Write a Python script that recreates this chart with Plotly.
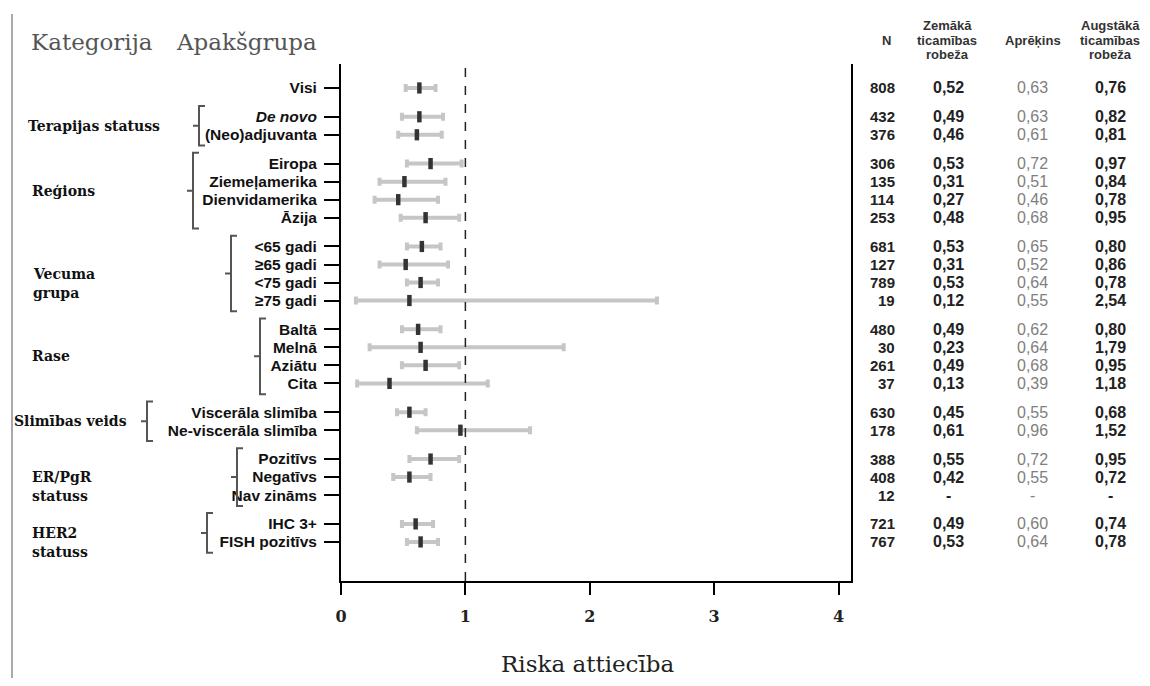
import plotly.graph_objects as go

# ---------------- data ----------------
group_names = ["", "Terapijas statuss", "Reģions", "Vecuma\ngrupa", "Rase",
               "Slimības veids", "ER/PgR\nstatuss", "HER2\nstatuss"]
subgroups = ["Visi", "De novo", "(Neo)adjuvanta",
             "Eiropa", "Ziemeļamerika", "Dienvidamerika", "Āzija",
             "<65 gadi", "≥65 gadi", "<75 gadi", "≥75 gadi",
             "Baltā", "Melnā", "Aziātu", "Cita",
             "Viscerāla slimība", "Ne-viscerāla slimība",
             "Pozitīvs", "Negatīvs", "Nav zināms",
             "IHC 3+", "FISH pozitīvs"]
group_of = [0, 1, 1, 2, 2, 2, 2, 3, 3, 3, 3, 4, 4, 4, 4, 5, 5, 6, 6, 6, 7, 7]
n_pat = [808, 432, 376, 306, 135, 114, 253, 681, 127, 789, 19,
         480, 30, 261, 37, 630, 178, 388, 408, 12, 721, 767]
lower = [0.52, 0.49, 0.46, 0.53, 0.31, 0.27, 0.48, 0.53, 0.31, 0.53, 0.12,
         0.49, 0.23, 0.49, 0.13, 0.45, 0.61, 0.55, 0.42, None, 0.49, 0.53]
estimate = [0.63, 0.63, 0.61, 0.72, 0.51, 0.46, 0.68, 0.65, 0.52, 0.64, 0.55,
            0.62, 0.64, 0.68, 0.39, 0.55, 0.96, 0.72, 0.55, None, 0.60, 0.64]
upper = [0.76, 0.82, 0.81, 0.97, 0.84, 0.78, 0.95, 0.80, 0.86, 0.78, 2.54,
         0.80, 1.79, 0.95, 1.18, 0.68, 1.52, 0.95, 0.72, None, 0.74, 0.78]
x_ticks = [0, 1, 2, 3, 4]
col_headers = ["N", "Zemākā\nticamības\nrobeža", "Aprēķins", "Augstākā\nticamības\nrobeža"]

# ---------------- layout constants (screen px, page has 8px body margin) ----------------
OFF = 8
W, H = 1150 - 2 * OFF, 686 - 2 * OFF
PLOT_L, PLOT_R, PLOT_T, PLOT_B = 341, 851, 64, 581   # screen px
L = PLOT_L - OFF
T = PLOT_T - OFF
R = W - (PLOT_R - OFF)
B = H - (PLOT_B - OFF)
PW = PLOT_R - PLOT_L
PH = PLOT_B - PLOT_T


def px_x(p):
    return (p - PLOT_L) / PW


def px_y(p):
    return (PLOT_B - p) / PH


GAP = 1.6
pos = []
cur = 0.0
for i, g in enumerate(group_of):
    if i > 0:
        cur += 1.0 if g == group_of[i - 1] else GAP
    pos.append(cur)
y_range = [pos[-1] + 2.17, -1.33]

SANS = "Liberation Sans, Arial, sans-serif"
SERIF = "DejaVu Serif, serif"


def fmt(v):
    return "-" if v is None else f"{v:.2f}".replace(".", ",")


tick_text = [f"<i>{s}</i>" if s == "De novo" else s for s in subgroups]

err_plus = [None if e is None else u - e for e, u in zip(estimate, upper)]
err_minus = [None if e is None else e - lo for e, lo in zip(estimate, lower)]

fig = go.Figure()
fig.add_trace(go.Scatter(
    x=estimate, y=pos, mode="markers",
    marker=dict(symbol="line-ns", size=8, line=dict(width=4.5, color="#333333")),
    error_x=dict(type="data", symmetric=False, array=err_plus, arrayminus=err_minus,
                 color="#c6c6c6", thickness=4, width=4),
    showlegend=False, hoverinfo="skip",
))

annotations = []
# header
annotations.append(dict(x=px_x(29), y=px_y(42), xref="paper", yref="paper", text="Kategorija",
                        showarrow=False, xanchor="left", yanchor="middle",
                        font=dict(family=SERIF, size=23, color="#555555")))
annotations.append(dict(x=px_x(174), y=px_y(42), xref="paper", yref="paper", text="Apakšgrupa",
                        showarrow=False, xanchor="left", yanchor="middle",
                        font=dict(family=SERIF, size=23, color="#555555")))
# x axis title
annotations.append(dict(x=px_x(588), y=px_y(664), xref="paper", yref="paper", text="Riska attiecība",
                        showarrow=False, xanchor="center", yanchor="middle",
                        font=dict(family=SERIF, size=23, color="#222222")))

# category labels and brackets
cat_x = {1: 26, 2: 30, 3: 31, 4: 30, 5: 12, 6: 30, 7: 30}
bracket_x = {1: 199, 2: 193, 3: 231, 4: 260, 5: 147, 6: 237, 7: 207}
shapes = []
for g in range(1, len(group_names)):
    idx = [i for i, gg in enumerate(group_of) if gg == g]
    top, bot = pos[idx[0]], pos[idx[-1]]
    mid = (top + bot) / 2
    for k, line in enumerate(group_names[g].split("\n")):
        annotations.append(dict(x=px_x(cat_x[g]), y=mid, xref="paper", yref="y", text=line,
                                showarrow=False, xanchor="left", yanchor="middle", yshift=-19 * k,
                                font=dict(family=SERIF, size=14, color="#111111", weight="bold")))
    bx = px_x(bracket_x[g])
    hook = 6 / PW
    t0, b0 = top - 0.6, bot + 0.6
    shapes.append(dict(type="path", xref="paper", yref="y",
                       path=f"M {bx + hook},{t0} L {bx},{t0} L {bx},{b0} L {bx + hook},{b0} "
                            f"M {bx},{mid} L {bx - hook},{mid}",
                       line=dict(color="#555555", width=2)))

# table headers
head_x = [886, 947, 1033, 1110]
for hx, h in zip(head_x, col_headers):
    lines = h.split("\n")
    for k, line in enumerate(lines):
        yy = 40 + (k - (len(lines) - 1) / 2) * 14
        annotations.append(dict(x=px_x(hx), y=px_y(yy), xref="paper", yref="paper", text=line,
                                showarrow=False, xanchor="center", yanchor="middle",
                                font=dict(family=SANS, size=13, color="#333333", weight="bold")))

# table rows
for i in range(len(subgroups)):
    annotations.append(dict(x=px_x(897), y=pos[i], xref="paper", yref="y", text=str(n_pat[i]),
                            showarrow=False, xanchor="right", yanchor="middle",
                            font=dict(family=SANS, size=15, color="#222222", weight="bold")))
    annotations.append(dict(x=px_x(948), y=pos[i], xref="paper", yref="y", text=fmt(lower[i]),
                            showarrow=False, xanchor="center", yanchor="middle",
                            font=dict(family=SANS, size=16, color="#222222", weight="bold")))
    annotations.append(dict(x=px_x(1032), y=pos[i], xref="paper", yref="y", text=fmt(estimate[i]),
                            showarrow=False, xanchor="center", yanchor="middle",
                            font=dict(family=SANS, size=16, color="#808080")))
    annotations.append(dict(x=px_x(1110), y=pos[i], xref="paper", yref="y", text=fmt(upper[i]),
                            showarrow=False, xanchor="center", yanchor="middle",
                            font=dict(family=SANS, size=16, color="#222222", weight="bold")))

# reference line at 1
shapes.append(dict(type="line", xref="x", yref="paper", x0=1, x1=1, y0=0, y1=1,
                   line=dict(color="#222222", width=1.5, dash="dash"), layer="above"))
# left page border line
shapes.append(dict(type="line", xref="paper", yref="paper", x0=px_x(12), x1=px_x(12),
                   y0=px_y(14), y1=px_y(690), line=dict(color="#aaaaaa", width=2)))

fig.update_layout(
    width=W, height=H,
    margin=dict(l=L, r=R, t=T, b=B),
    paper_bgcolor="white", plot_bgcolor="white",
    showlegend=False,
    annotations=annotations,
    shapes=shapes,
    xaxis=dict(range=[0, 4.1], tickvals=x_ticks, ticks="outside", ticklen=12, tickwidth=2,
               tickcolor="#000000", showline=True, linewidth=2, linecolor="#000000",
               showgrid=False, zeroline=False, ticklabelstandoff=8,
               tickfont=dict(family=SERIF, size=16, color="#222222", weight="bold")),
    yaxis=dict(range=y_range, tickvals=pos, ticktext=tick_text, ticks="outside", ticklen=15,
               tickwidth=2, tickcolor="#000000", showline=True, linewidth=2, linecolor="#000000",
               mirror=True, showgrid=False, zeroline=False, ticklabelstandoff=4,
               tickfont=dict(family=SANS, size=15.5, color="#111111", weight="bold")),
)

fig.write_html("out.html")
